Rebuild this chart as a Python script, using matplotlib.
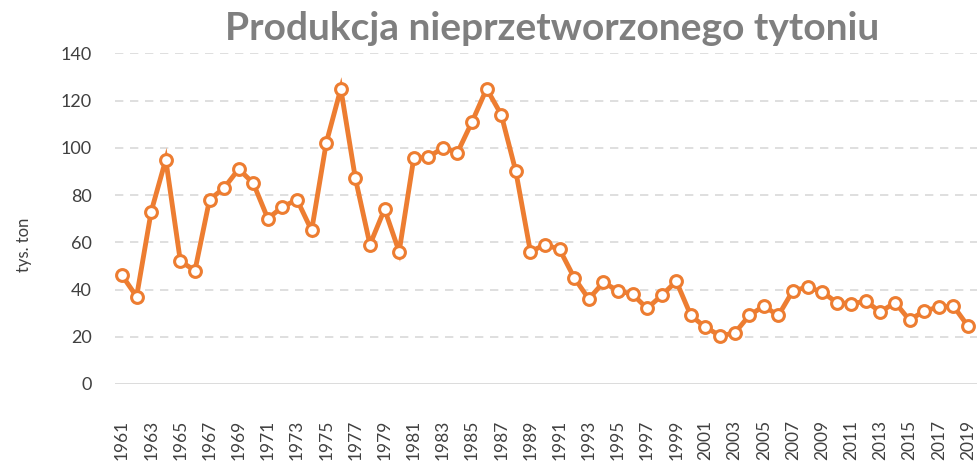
import matplotlib
matplotlib.use("Agg")
import matplotlib.pyplot as plt
import numpy as np

years = list(range(1961, 2020))
values = [46, 37, 73, 95, 52, 48, 78, 83, 91, 85,
          70, 75, 78, 65, 102, 125, 87, 59, 74, 56,
          95.5, 96, 100, 98, 111, 125, 114, 90, 56, 59,
          57, 45, 36, 43, 39.5, 38, 32, 37.5, 43.5, 29,
          24, 20.5, 21.5, 29, 33, 29, 39.5, 41, 39, 34.5,
          34, 35, 30.5, 34.5, 27, 31, 32.5, 33, 24.5]
yticks = [0, 20, 40, 60, 80, 100, 120, 140]
xtick_years = list(range(1961, 2020, 2))

title = "Produkcja nieprzetworzonego tytoniu"
ylabel = "tys. ton"

orange = "#ED7D31"
fig = plt.figure(figsize=(9.78, 4.65), dpi=100)
ax = fig.add_axes([0.1176, 0.1742, 0.8814, 0.7112])

ax.set_ylim(0, 140)
ax.set_xlim(1960.52, 2019.62)

for t in yticks:
    if t == 0:
        ax.axhline(t, color="#d9d9d9", lw=1.3, zorder=1)
    else:
        ax.axhline(t, color="#d9d9d9", lw=1.2, ls=(0, (5, 4)), zorder=1)

ax.plot(years, values, color=orange, lw=3.5, marker="o", ms=8.5,
        mfc="white", mec=orange, mew=2.2, zorder=3, solid_joinstyle="miter")

for s in ax.spines.values():
    s.set_visible(False)
ax.set_yticks(yticks)
ax.set_yticklabels([str(t) for t in yticks], fontsize=13, color="#404040", family="Lato")
ax.set_xticks(xtick_years)
ax.set_xticklabels([str(y) for y in xtick_years], rotation=90, fontsize=12.5,
                   color="#404040", family="Lato")
ax.tick_params(axis="both", length=0)
ax.tick_params(axis="y", pad=16.5)
ax.tick_params(axis="x", pad=26)

fig.text(0.025, 0.473, ylabel, rotation=90, ha="center", va="center",
         fontsize=12, color="#404040", family="Lato")
fig.text(0.565, 0.914, title, ha="center", va="baseline", fontsize=28,
         fontweight="bold", color="#7f7f7f", family="Lato")

fig.savefig("out.png", dpi=100)
